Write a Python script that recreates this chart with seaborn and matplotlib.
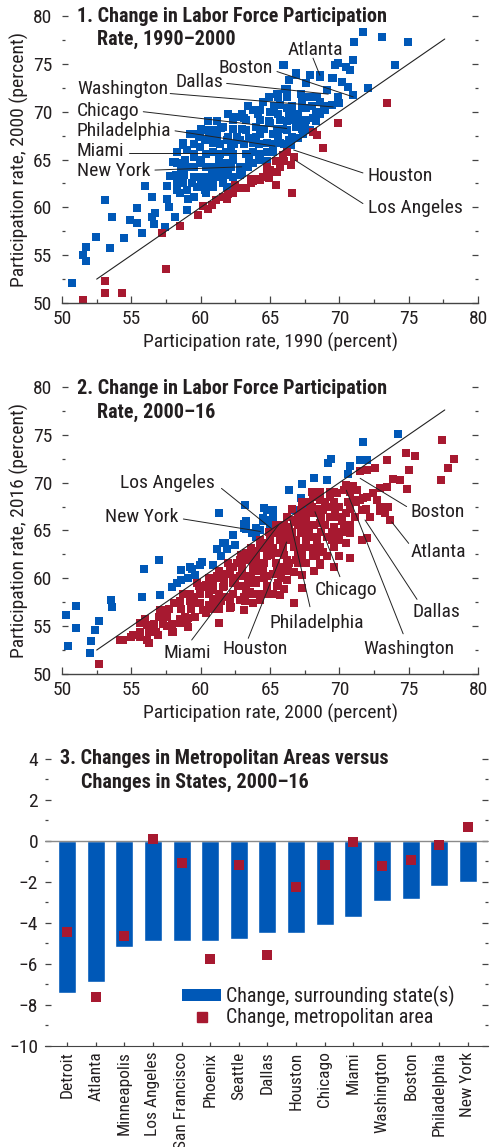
import matplotlib
matplotlib.use("Agg")
import matplotlib.pyplot as plt
import numpy as np
import pandas as pd
import seaborn as sns
from matplotlib import font_manager
from matplotlib.lines import Line2D
from matplotlib.patches import Patch
from matplotlib.ticker import MultipleLocator

# ---- data: panel 1 (1990 vs 2000) ----
p1_blue_x = [50.7, 51.5, 51.7, 51.7, 52.45, 53.1, 53.45, 53.6, 54.5, 54.9, 55.4, 55.4, 55.8, 56.0, 56.5,
             56.5, 56.7, 56.6, 57.55, 57.6, 57.7, 57.4, 58.15, 58.3, 58.5, 59.1, 59.0, 59.7, 59.95, 60.4,
             60.9, 61.4, 61.9, 58.75, 59.5, 58.15, 58.0, 58.7,
             71.7, 73.05, 71.05, 74.97, 74.0, 72.1, 69.9, 71.0, 70.5, 70.8, 65.9, 66.9, 66.4, 67.6, 68.6,
             69.45, 70.2, 69.1, 70.6, 71.0, 70.0, 68.6, 69.45, 66.2, 67.2, 66.2, 67.3, 64.5, 64.3, 65.7,
             65.0, 66.2, 66.9, 67.6, 68.1, 67.6, 66.7, 65.7, 65.0, 64.3, 63.3, 62.8, 62.35, 61.6, 60.9,
             59.95, 59.2, 63.3, 64.3, 65.2, 66.2, 66.9, 67.4, 67.9, 63.8, 64.8, 65.7, 66.4, 62.8, 61.9,
             60.9, 59.95, 59.0, 59.5, 60.4, 61.4, 62.35, 63.3, 64.3, 65.2, 59.95, 60.9, 61.9, 62.8, 63.8,
             64.8, 59.0, 59.5, 60.4, 61.4, 62.35, 63.0, 59.95, 60.9, 59.0, 59.5,
             59.5, 60.5, 61.5, 62.35, 63.1, 63.8, 65.5, 66.1, 66.9, 66.0, 67.9, 68.6, 69.55, 69.7,
             64.0, 65.5, 66.5, 67.0, 67.5, 68.3, 69.0, 63.5, 62.2, 61.2, 60.3, 62.0, 61.0, 60.0, 58.8,
             58.3, 57.8,
             64.9, 65.6, 67.8, 68.4, 69.9, 63.4, 65.3, 66.6, 67.3, 68.0, 68.9, 62.0, 63.0, 64.1, 65.6,
             66.4, 67.0, 68.6, 60.5, 61.2, 64.9, 66.2, 67.0, 68.3, 60.0, 62.3, 63.0, 64.6, 65.9, 67.3,
             59.9, 60.6, 62.0, 62.6, 64.0, 65.6, 66.6, 59.5, 61.4, 62.4, 63.1, 64.2, 65.2, 66.0, 58.3,
             60.9, 61.8, 63.8, 64.8, 58.9, 60.0, 61.3, 62.3, 63.5, 64.2, 58.6, 59.5, 60.4, 61.5, 62.2,
             63.4, 58.2, 58.8, 60.8, 61.9, 62.8, 58.7, 59.4, 60.4, 61.6, 58.3, 60.3]
p1_blue_y = [52.1, 55.0, 55.9, 54.4, 56.9, 60.8, 55.8, 59.0, 56.75, 58.7, 58.4, 59.9, 57.35, 62.2, 61.1,
             59.0, 59.4, 58.3, 62.2, 60.9, 60.0, 57.9, 59.0, 64.6, 61.5, 60.9, 59.7, 62.15, 63.2, 61.5,
             62.5, 63.55, 62.15, 66.7, 65.6, 64.75, 64.75, 66.5,
             78.35, 77.8, 77.3, 77.3, 74.9, 72.5, 75.05, 75.4, 74.7, 74.35, 74.9, 73.8, 73.3, 72.95, 73.65,
             73.5, 73.1, 72.25, 72.6, 71.7, 70.9, 71.0, 70.7, 72.4, 71.9, 71.55, 71.0, 71.0, 70.2, 70.7,
             70.0, 70.35, 69.8, 70.35, 69.3, 69.1, 69.1, 69.1, 68.8, 69.1, 69.1, 69.5, 69.1, 68.4, 68.1,
             67.7, 67.7, 68.1, 67.7, 67.7, 68.1, 68.4, 67.7, 68.1, 66.7, 66.7, 66.7, 67.0, 67.0, 67.0,
             66.7, 66.3, 66.0, 65.3, 65.6, 65.6, 65.6, 65.6, 65.6, 65.8, 64.6, 64.25, 64.6, 64.25, 64.6,
             64.9, 64.25, 63.2, 63.2, 63.2, 63.2, 63.6, 62.15, 62.15, 61.8, 61.1,
             67.7, 68.1, 68.25, 69.5, 69.3, 70.2, 71.9, 72.4, 74.0, 74.9, 73.8, 73.8, 73.5, 74.9,
             68.4, 68.2, 66.5, 67.3, 68.8, 70.0, 70.2, 67.3, 66.2, 67.5, 67.0, 64.0, 63.8, 62.8, 63.5,
             62.7, 63.3,
             71.5, 71.5, 71.5, 71.5, 71.5, 70.6, 70.6, 70.6, 70.6, 70.6, 70.6, 69.8, 69.8, 69.8, 69.8,
             69.8, 69.8, 69.8, 69.0, 69.0, 69.0, 69.0, 69.0, 69.0, 68.2, 68.2, 68.2, 68.2, 68.2, 68.2,
             67.4, 67.4, 67.4, 67.4, 67.4, 67.4, 67.4, 66.6, 66.6, 66.6, 66.6, 66.6, 66.6, 66.6, 65.8,
             65.8, 65.8, 65.8, 65.8, 65.0, 65.0, 65.0, 65.0, 65.0, 65.0, 64.2, 64.2, 64.2, 64.2, 64.2,
             64.2, 63.4, 63.4, 63.4, 63.4, 63.4, 62.6, 62.6, 62.6, 62.6, 61.8, 61.8]
p1_red_x = [51.5, 53.1, 53.1, 54.3, 57.5, 57.2, 58.5, 60.2, 60.8, 61.1, 61.6, 61.9, 62.3, 62.5, 63.1,
            63.3, 63.8, 64.2, 64.3, 64.5, 64.8, 65.0, 65.5, 65.7, 64.8, 65.4, 65.9, 66.5, 66.7, 65.4,
            66.6, 68.4, 68.1, 68.8, 69.9, 73.4, 62.0, 63.6, 59.8, 60.5, 62.8, 63.6, 64.9, 66.0, 66.2]
p1_red_y = [50.3, 52.3, 51.0, 51.0, 53.6, 57.3, 58.1, 60.1, 60.3, 60.8, 61.1, 60.9, 61.5, 62.3, 62.0,
            62.0, 62.8, 63.0, 62.85, 63.2, 63.6, 63.9, 63.7, 64.2, 64.2, 64.8, 65.5, 64.4, 65.3, 62.3,
            61.5, 67.6, 67.9, 66.2, 68.8, 70.9, 61.4, 62.5, 59.2, 59.8, 62.0, 63.0, 63.1, 64.9, 65.8]

# ---- data: panel 2 (2000 vs 2016) ----
p2_blue_x = [50.45, 52.0, 52.1, 51.0, 52.4, 52.7, 50.3, 51.0, 53.5, 53.6, 55.8, 57.1, 55.9, 57.0, 57.9,
             58.3, 58.6, 59.1, 58.6, 59.35, 60.1, 59.6, 60.9, 61.15, 61.75, 62.5, 61.3, 62.35, 63.1, 63.3,
             63.7, 64.3, 64.5, 64.8, 65.2, 65.1, 64.0, 63.2,
             74.25, 71.7, 71.5, 72.0, 69.4, 69.2, 70.8, 68.2, 69.1, 67.3, 66.4, 67.2, 67.4, 66.7, 67.6, 70.6,
             64.6, 65.2, 65.2, 64.5, 63.3, 63.1, 64.0, 61.6, 61.9, 61.5, 59.95, 59.2, 65.0]
p2_blue_y = [52.96, 52.2, 53.4, 54.8, 54.6, 55.5, 56.2, 57.1, 57.7, 57.0, 58.0, 58.3, 61.0, 61.9, 59.1,
             59.5, 59.8, 60.0, 60.9, 61.0, 61.7, 60.3, 61.4, 63.1, 63.65, 63.5, 66.8, 64.5, 65.7, 65.2,
             64.7, 65.0, 66.0, 67.1, 66.9, 66.1, 64.3, 67.7,
             75.1, 74.2, 72.4, 72.4, 72.5, 72.1, 71.7, 70.5, 70.3, 69.9, 69.2, 68.4, 67.8, 67.1, 67.4, 70.9,
             67.4, 67.1, 66.4, 66.3, 66.0, 65.3, 65.3, 63.65, 63.1, 62.3, 61.4, 61.2, 65.7]
p2_red_x = [77.4, 78.3, 77.85, 77.3, 74.8, 75.45, 73.4, 75.0, 74.4, 73.9, 74.85, 72.6, 72.0, 71.5, 73.4,
            72.9, 72.45, 72.0, 72.7, 73.5, 72.9, 72.2, 73.3, 73.65, 71.6, 71.0, 71.7, 71.6, 72.0, 70.75,
            68.6,
            52.7, 54.4, 55.1, 56.3, 56.9, 55.6, 56.1, 56.0, 57.9, 58.5, 59.1, 59.1, 57.1, 57.5, 58.1,
            58.7, 59.5, 59.95, 60.4, 61.3, 59.7, 60.4, 60.9, 61.15, 61.9, 62.35, 62.8, 63.3, 63.8, 64.3,
            64.8, 65.2, 61.6, 62.35, 63.3, 63.8, 64.3, 64.8, 65.2, 61.9, 62.8, 63.3, 64.0, 64.8, 64.3,
            65.2, 62.1, 63.1, 63.8, 62.2, 62.1, 62.35, 63.1, 63.55, 64.5, 65.1, 65.7, 66.7, 66.2, 66.7,
            65.2, 64.0, 63.4, 62.8, 61.15, 60.4, 59.95, 59.5, 60.2, 59.7, 59.0, 58.5, 57.55, 58.0, 56.8,
            56.1, 55.6, 55.0, 54.2,
            68.1, 68.6, 69.3, 69.8, 70.3, 70.5, 71.0, 70.0, 70.5, 69.6, 68.8, 68.1, 67.6, 68.6, 69.6,
            70.3, 70.8, 70.0, 69.1, 68.1, 67.2, 66.4, 65.7, 66.7, 67.6, 68.6, 69.6, 70.5, 66.9, 68.1,
            69.1, 70.0, 66.2, 65.5, 64.8, 64.0, 63.3, 62.6, 67.6, 68.6, 69.6, 66.2, 65.2, 67.2, 66.7,
            69.1, 71.5, 72.9, 71.25,
            66.8, 67.5, 68.0, 69.3, 67.0, 68.2, 66.0, 65.6, 67.3, 66.0, 67.3, 61.0, 60.6, 62.5, 63.0,
            64.5, 65.8, 69.5, 70.2, 68.8,
            68.0, 68.6, 69.6, 70.8, 67.3, 67.9, 69.0, 69.6, 70.6, 71.2, 66.6, 67.9, 68.5, 69.7, 70.8,
            71.9, 66.2, 67.0, 68.7, 69.3, 70.0, 71.1, 65.4, 66.0, 67.0, 67.6, 68.2, 69.0, 70.8, 64.9,
            65.8, 66.6, 67.8, 68.7, 69.6, 70.2, 64.3, 65.0, 66.3, 66.9, 67.6, 68.4, 69.5, 63.6, 64.3,
            65.2, 65.9, 67.1, 68.1, 62.9, 63.6, 65.1, 66.0, 67.3, 68.3, 62.0, 63.0, 63.8, 64.6, 65.4,
            66.4, 67.0, 61.3, 62.1, 63.0, 64.0, 65.5, 66.3, 60.6, 61.7, 62.3, 63.6, 64.6, 65.8, 59.9,
            60.9, 61.7, 62.7, 64.8, 65.5, 59.2, 60.6, 61.3, 63.4, 64.0, 58.5, 59.2, 60.9, 61.5, 63.2,
            57.7, 58.6, 59.3, 60.8, 61.3, 57.0, 57.6, 58.9, 59.6, 56.6, 57.3, 57.9, 55.6, 56.3]
p2_red_y = [74.45, 72.5, 71.5, 70.3, 73.1, 72.8, 72.4, 71.3, 70.3, 70.4, 69.3, 71.5, 71.3, 71.2, 69.5,
            69.4, 68.9, 68.5, 68.2, 67.5, 67.0, 66.4, 66.8, 66.1, 67.1, 68.2, 68.4, 64.0, 64.2, 62.1,
            61.4,
            51.0, 53.6, 54.1, 53.2, 54.1, 55.3, 55.1, 55.7, 54.4, 55.3, 55.8, 54.9, 56.7, 56.7, 57.4,
            58.4, 58.0, 57.4, 56.35, 55.3, 59.5, 59.1, 58.8, 60.2, 60.5, 61.2, 61.9, 62.6, 62.9, 63.3,
            63.65, 64.7, 59.1, 59.5, 60.2, 60.9, 61.6, 62.3, 63.0, 58.0, 57.7, 58.8, 59.5, 60.2, 57.7,
            58.4, 56.9, 56.7, 57.4, 57.0, 57.7, 58.4, 58.0, 58.6, 58.4, 58.4, 58.3, 57.4, 59.8, 60.7,
            60.5, 59.8, 59.5, 60.2, 60.0, 59.3, 58.4, 58.0, 56.7, 57.4, 55.3, 55.7, 55.0, 54.4, 54.4,
            53.6, 53.9, 53.9, 53.6,
            68.5, 68.2, 68.5, 68.9, 69.2, 69.75, 69.6, 67.5, 66.8, 66.4, 67.1, 66.8, 66.1, 65.75, 65.4,
            65.4, 64.7, 64.0, 64.35, 64.35, 64.7, 65.4, 64.0, 63.3, 63.3, 63.3, 63.3, 63.65, 61.9, 62.3,
            62.3, 62.3, 61.9, 62.6, 62.95, 62.3, 61.9, 61.6, 61.6, 61.6, 61.2, 64.7, 64.7, 67.1, 66.1,
            67.5, 68.2, 67.5, 69.2,
            65.9, 66.9, 67.5, 69.0, 62.7, 60.8, 60.9, 59.5, 60.3, 58.9, 59.0, 57.8, 57.2, 59.9, 59.2,
            60.8, 61.2, 64.8, 66.0, 62.8,
            69.0, 69.0, 69.0, 69.0, 68.0, 68.0, 68.0, 68.0, 68.0, 68.0, 67.2, 67.2, 67.2, 67.2, 67.2,
            67.2, 66.4, 66.4, 66.4, 66.4, 66.4, 66.4, 65.6, 65.6, 65.6, 65.6, 65.6, 65.6, 65.6, 64.8,
            64.8, 64.8, 64.8, 64.8, 64.8, 64.8, 64.0, 64.0, 64.0, 64.0, 64.0, 64.0, 64.0, 63.2, 63.2,
            63.2, 63.2, 63.2, 63.2, 62.4, 62.4, 62.4, 62.4, 62.4, 62.4, 61.6, 61.6, 61.6, 61.6, 61.6,
            61.6, 61.6, 60.8, 60.8, 60.8, 60.8, 60.8, 60.8, 60.0, 60.0, 60.0, 60.0, 60.0, 60.0, 59.2,
            59.2, 59.2, 59.2, 59.2, 59.2, 58.4, 58.4, 58.4, 58.4, 58.4, 57.6, 57.6, 57.6, 57.6, 57.6,
            56.8, 56.8, 56.8, 56.8, 56.8, 56.0, 56.0, 56.0, 56.0, 55.2, 55.2, 55.2, 54.4, 54.4]

# ---- data: panel 3 ----
cities = ["Detroit", "Atlanta", "Minneapolis", "Los Angeles", "San Francisco", "Phoenix", "Seattle",
          "Dallas", "Houston", "Chicago", "Miami", "Washington", "Boston", "Philadelphia", "New York"]
state_change = [-7.4, -6.9, -5.15, -4.9, -4.9, -4.9, -4.8, -4.5, -4.5, -4.1, -3.72, -2.95, -2.85, -2.22, -1.98]
metro_change = [-4.45, -7.6, -4.65, 0.1, -1.07, -5.78, -1.17, -5.57, -2.27, -1.17, -0.03, -1.2, -0.91, -0.2, 0.68]

BLUE = "#0058B7"
RED = "#A71930"
TXT = "#231F20"

# pick a narrow face when one exists, otherwise a plain sans at a smaller size
_names = {f.name for f in font_manager.fontManager.ttflist}
FAMILY, FS, TFS, LFS, CFS = "Roboto", 11.5, 11.5, 11.5, 11
for cand in ["Roboto Condensed", "Liberation Sans Narrow", "Open Sans Condensed"]:
    if cand in _names:
        FAMILY, FS, TFS, LFS, CFS = cand, 14, 14.5, 14.4, 12.5
        break

sns.set_style("ticks")
plt.rcParams["font.family"] = [FAMILY, "DejaVu Sans"]
plt.rcParams["text.color"] = TXT
plt.rcParams["axes.labelcolor"] = TXT
plt.rcParams["xtick.color"] = TXT
plt.rcParams["ytick.color"] = TXT

fig = plt.figure(figsize=(4.91, 11.47), dpi=100)
ax1 = fig.add_axes([0.1263, 0.7358, 0.8473, 0.2502])
ax2 = fig.add_axes([0.1263, 0.4124, 0.8473, 0.2502])
ax3 = fig.add_axes([0.0916, 0.0881, 0.9022, 0.2502])


def style_scatter(ax, xlabel, ylabel):
    ax.set_xlim(50, 80)
    ax.set_ylim(50, 80)
    ax.xaxis.set_major_locator(MultipleLocator(5))
    ax.xaxis.set_minor_locator(MultipleLocator(2.5))
    ax.yaxis.set_major_locator(MultipleLocator(5))
    ax.yaxis.set_minor_locator(MultipleLocator(2.5))
    for s in ["left", "right", "top"]:
        ax.spines[s].set_visible(False)
    ax.spines["bottom"].set_color("#444444")
    ax.spines["bottom"].set_linewidth(1.0)
    ax.tick_params(axis="y", which="both", direction="in", left=True, right=True,
                   labelright=False, labelsize=FS, pad=7, color="#444444")
    ax.tick_params(axis="y", which="major", length=4, width=0.9)
    ax.tick_params(axis="y", which="minor", length=2, width=0.9)
    ax.tick_params(axis="x", which="both", direction="in", labelsize=FS, pad=5, color="#444444")
    ax.tick_params(axis="x", which="major", length=5, width=0.9)
    ax.tick_params(axis="x", which="minor", length=3, width=0.9)
    ax.set_xlabel(xlabel, fontsize=FS)
    ax.set_ylabel(ylabel, fontsize=FS)
    ax.xaxis.set_label_coords(0.5, -0.105)
    ax.yaxis.set_label_coords(-0.08, 0.5)
    ax.plot([52.5, 77.6], [52.5, 77.6], color="#222222", lw=0.8, zorder=3)


def leaders(ax, labels):
    for text, tx, ty, ha, x0, y0, x1, y1 in labels:
        ax.text(tx, ty, text, ha=ha, va="center", fontsize=FS, zorder=5)
        ax.plot([x0, x1], [y0, y1], color="#222222", lw=0.7, zorder=4)


# ---- panel 1 ----
sns.scatterplot(x=p1_blue_x, y=p1_blue_y, ax=ax1, color=BLUE, marker="s", s=36, linewidth=0, zorder=2)
sns.scatterplot(x=p1_red_x, y=p1_red_y, ax=ax1, color=RED, marker="s", s=36, linewidth=0, zorder=2)
style_scatter(ax1, "Participation rate, 1990 (percent)", "Participation rate, 2000 (percent)")
ax1.text(0.036, 1.0, "1. Change in Labor Force Participation", transform=ax1.transAxes,
         fontsize=TFS, fontweight="bold", va="center", ha="left")
ax1.text(0.084, 0.92, "Rate, 1990\u20132000", transform=ax1.transAxes,
         fontsize=TFS, fontweight="bold", va="center", ha="left")
leaders(ax1, [
    ("Atlanta", 68.24, 76.5, "center", 68.1, 75.6, 68.6, 73.8),
    ("Boston", 65.2, 74.55, "right", 65.5, 74.2, 71.0, 71.55),
    ("Dallas", 61.6, 73.1, "right", 61.87, 72.96, 69.2, 71.84),
    ("Washington", 51.08, 72.36, "left", 57.8, 71.9, 69.56, 70.5),
    ("Chicago", 51.08, 70.06, "left", 55.86, 70.0, 66.2, 68.25),
    ("Philadelphia", 51.08, 68.0, "left", 58.15, 68.0, 65.36, 66.4),
    ("Miami", 51.08, 65.9, "left", 54.8, 65.7, 63.55, 65.7),
    ("New York", 51.08, 63.8, "left", 56.7, 63.9, 62.96, 64.24),
    ("Houston", 72.06, 63.27, "left", 71.7, 63.6, 66.7, 66.0),
    ("Los Angeles", 72.06, 59.9, "left", 71.7, 60.4, 66.8, 64.94),
])

# ---- panel 2 ----
sns.scatterplot(x=p2_blue_x, y=p2_blue_y, ax=ax2, color=BLUE, marker="s", s=36, linewidth=0, zorder=2)
sns.scatterplot(x=p2_red_x, y=p2_red_y, ax=ax2, color=RED, marker="s", s=36, linewidth=0, zorder=2)
style_scatter(ax2, "Participation rate, 2000 (percent)", "Participation rate, 2016 (percent)")
ax2.text(0.036, 0.995, "2. Change in Labor Force Participation", transform=ax2.transAxes,
         fontsize=TFS, fontweight="bold", va="center", ha="left")
ax2.text(0.084, 0.91, "Rate, 2000\u201316", transform=ax2.transAxes,
         fontsize=TFS, fontweight="bold", va="center", ha="left")
leaders(ax2, [
    ("Los Angeles", 61.03, 69.93, "right", 61.5, 69.4, 65.1, 65.2),
    ("New York", 58.4, 66.44, "right", 58.75, 66.2, 64.3, 64.9),
    ("Boston", 75.1, 66.96, "left", 74.85, 67.5, 71.5, 70.45),
    ("Atlanta", 75.1, 62.78, "left", 75.0, 63.65, 73.77, 65.9),
    ("Dallas", 75.3, 56.5, "left", 75.6, 57.8, 71.85, 66.1),
    ("Washington", 71.7, 52.6, "left", 74.6, 54.2, 70.5, 69.2),
    ("Chicago", 68.24, 58.8, "left", 70.04, 60.17, 68.24, 66.96),
    ("Philadelphia", 64.95, 55.36, "left", 67.88, 57.03, 66.44, 66.1),
    ("Houston", 61.59, 52.6, "left", 63.43, 53.73, 66.2, 63.8),
    ("Miami", 57.3, 52.23, "left", 59.35, 53.55, 65.6, 65.57),
])

# ---- panel 3 ----
sns.barplot(x=cities, y=state_change, ax=ax3, color=BLUE, width=0.63, saturation=1, zorder=2)
sns.stripplot(x=cities, y=metro_change, ax=ax3, color=RED, marker="s", size=7.2, jitter=False,
              linewidth=0, zorder=4)
ax3.axhline(0, color="#8a8a8a", lw=1.0, zorder=3)
ax3.set_ylim(-10, 4)
ax3.set_xlim(-0.77, 14.7)
ax3.yaxis.set_major_locator(MultipleLocator(2))
ax3.yaxis.set_minor_locator(MultipleLocator(1))
for s in ["left", "right", "top"]:
    ax3.spines[s].set_visible(False)
ax3.spines["bottom"].set_color("#444444")
ax3.tick_params(axis="y", which="both", direction="in", left=True, right=True,
                labelright=False, labelsize=FS, pad=5, color="#444444")
ax3.tick_params(axis="y", which="major", length=4, width=0.9)
ax3.tick_params(axis="y", which="minor", length=2, width=0.9)
ax3.tick_params(axis="x", direction="in", length=3, width=0.9, labelsize=CFS, pad=4,
                labelrotation=90, color="#444444")
ax3.set_xlabel("")
ax3.set_ylabel("")
ax3.text(0.034, 1.003, "3. Changes in Metropolitan Areas versus", transform=ax3.transAxes,
         fontsize=TFS, fontweight="bold", va="center", ha="left")
ax3.text(0.081, 0.917, "Changes in States, 2000\u201316", transform=ax3.transAxes,
         fontsize=TFS, fontweight="bold", va="center", ha="left")
handles = [Patch(facecolor=BLUE, edgecolor="none"),
           Line2D([], [], color=RED, marker="s", linestyle="none", markersize=7.2)]
ax3.legend(handles, ["Change, surrounding state(s)", "Change, metropolitan area"],
           loc="lower left", bbox_to_anchor=(0.31, 0.065), frameon=False, fontsize=LFS,
           handlelength=1.95, handleheight=0.5, handletextpad=0.25, borderpad=0, labelspacing=0.08,
           borderaxespad=0)

fig.savefig("out.png", dpi=100)
